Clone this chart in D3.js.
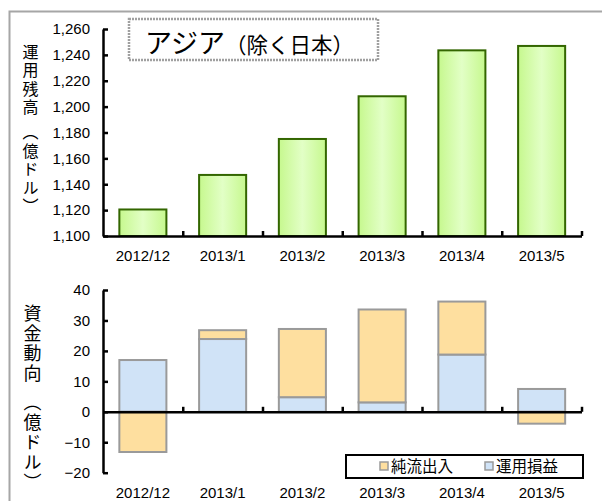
<!DOCTYPE html>
<html>
<head>
<meta charset="utf-8">
<script src="https://cdn.jsdelivr.net/npm/d3@7"></script>
<style>
  body { margin: 0; background: #fff; }
  text { font-family: "Liberation Sans", Arial, sans-serif; }
  .jp { font-family: "Noto Sans CJK JP", sans-serif; }
</style>
</head>
<body>
<div id="chart"></div>
<script>
var width = 602, height = 501;

// data
var months = ["2012/12", "2013/1", "2013/2", "2013/3", "2013/4", "2013/5"];
var balance = [1120.5, 1147.2, 1175, 1208, 1243.5, 1246.9];      // 運用残高
var pnl = [17, 23.9, 4.8, 3.1, 18.8, 7.5];                        // 運用損益
var netFlow = [-13.2, 2.9, 22.4, 30.5, 17.4, -3.9];              // 純流出入
var topTicks = [1100, 1120, 1140, 1160, 1180, 1200, 1220, 1240, 1260];
var bottomTicks = [-20, -10, 0, 10, 20, 30, 40];

var left = 103, right = 581.5;

var svg = d3.select("#chart").append("svg")
    .attr("width", width)
    .attr("height", height);

svg.append("rect").attr("width", width).attr("height", height).attr("fill", "#fff");

// outer frame
svg.append("rect")
    .attr("x", 9.5).attr("y", 11.5)
    .attr("width", 640).attr("height", 540)
    .attr("fill", "none")
    .attr("stroke", "#a6a6a6")
    .attr("stroke-width", 2);

var defs = svg.append("defs");
var grad = defs.append("linearGradient").attr("id", "greenGrad")
    .attr("x1", "0%").attr("x2", "100%").attr("y1", "0%").attr("y2", "0%");
grad.append("stop").attr("offset", "0%").attr("stop-color", "#c6f88e");
grad.append("stop").attr("offset", "50%").attr("stop-color", "#e2ffc6");
grad.append("stop").attr("offset", "100%").attr("stop-color", "#c6f88e");

var xBand = d3.scaleBand().domain(months).range([left, right])
    .paddingInner(0.41).paddingOuter(0.205);
var xEdge = d3.scaleLinear().domain([0, months.length]).range([left, right]);

//---------------- top chart ----------------
var yTop = d3.scaleLinear().domain([1100, 1260]).range([236, 29]);

svg.append("g").selectAll("rect")
    .data(months)
    .enter().append("rect")
    .attr("x", d => xBand(d))
    .attr("width", xBand.bandwidth())
    .attr("y", (d, i) => yTop(balance[i]))
    .attr("height", (d, i) => yTop(1100) - yTop(balance[i]))
    .attr("fill", "url(#greenGrad)")
    .attr("stroke", "#336600")
    .attr("stroke-width", 2);

function styleAxis(g) {
    g.selectAll("path, line").attr("stroke", "#000").attr("stroke-width", 2.5);
    g.selectAll("text").attr("fill", "#000").style("font-size", "15px")
        .style("font-family", "'Liberation Sans', Arial, sans-serif");
}

var yAxisTop = svg.append("g")
    .attr("transform", `translate(${left},0)`)
    .call(d3.axisLeft(yTop).tickValues(topTicks).tickSize(-5).tickSizeOuter(0)
        .tickPadding(13).tickFormat(d3.format(",")));
styleAxis(yAxisTop);

var xTicksTop = svg.append("g")
    .attr("transform", "translate(0,236)")
    .call(d3.axisTop(xEdge).tickValues([1, 2, 3, 4, 5, 6]).tickSize(5).tickSizeOuter(0).tickFormat(""));
styleAxis(xTicksTop);

var xLabelsTop = svg.append("g")
    .attr("transform", "translate(0,236)")
    .call(d3.axisBottom(xBand).tickSize(0).tickPadding(14));
xLabelsTop.select(".domain").remove();
styleAxis(xLabelsTop);

//---------------- bottom chart ----------------
var yBot = d3.scaleLinear().domain([-20, 40]).range([472.7, 290]);

var flowRows = months.map((m, i) => ({ month: m, pnl: pnl[i], net: netFlow[i] }));
var stack = d3.stack().keys(["pnl", "net"]).offset(d3.stackOffsetDiverging);
var series = stack(flowRows);
var colors = { pnl: "#d0e3f7", net: "#fedf9f" };

svg.append("g").selectAll("g")
    .data(series)
    .enter().append("g")
    .attr("fill", d => colors[d.key])
    .selectAll("rect")
    .data(d => d)
    .enter().append("rect")
    .attr("x", d => xBand(d.data.month))
    .attr("width", xBand.bandwidth())
    .attr("y", d => yBot(Math.max(d[0], d[1])))
    .attr("height", d => Math.abs(yBot(d[0]) - yBot(d[1])))
    .attr("stroke", "#9a9a9a")
    .attr("stroke-width", 2);

var yAxisBot = svg.append("g")
    .attr("transform", `translate(${left},0)`)
    .call(d3.axisLeft(yBot).tickValues(bottomTicks).tickSize(-5).tickSizeOuter(0)
        .tickPadding(13));
styleAxis(yAxisBot);

var zeroAxis = svg.append("g")
    .attr("transform", `translate(0,${yBot(0)})`)
    .call(d3.axisTop(xEdge).tickValues([1, 2, 3, 4, 5, 6]).tickSize(5).tickSizeOuter(0).tickFormat(""));
styleAxis(zeroAxis);

var xLabelsBot = svg.append("g")
    .attr("transform", `translate(0,${yBot(-20)})`)
    .call(d3.axisBottom(xBand).tickSize(0).tickPadding(15));
xLabelsBot.select(".domain").remove();
styleAxis(xLabelsBot);

//---------------- vertical axis titles ----------------
// a space between title and unit gets its own (smaller) advance
function verticalLabel(str, x, y0, size, pitch, gap) {
    var pos = [], y = y0;
    Array.from(str).forEach(ch => {
        if (ch === " ") { y += gap; return; }
        pos.push({ ch: ch, y: y });
        y += pitch;
    });
    svg.append("g").selectAll("text")
        .data(pos)
        .enter().append("text")
        .attr("class", "jp")
        .attr("x", x)
        .attr("y", d => d.y)
        .style("writing-mode", "vertical-rl")
        .style("font-size", size + "px")
        .attr("fill", "#000")
        .text(d => d.ch);
}
verticalLabel("運用残高 （億ドル）", 30.5, 43.5, 16, 18.5, 6.5);
verticalLabel("資金動向 （億ドル）", 32.5, 304, 18, 20, 9);

// title box
svg.append("rect")
    .attr("x", 129).attr("y", 19)
    .attr("width", 249).attr("height", 41)
    .attr("fill", "#fff")
    .attr("stroke", "#a0a0a0")
    .attr("stroke-width", 2.5)
    .attr("stroke-dasharray", "2,1");

var title = svg.append("text")
    .attr("class", "jp")
    .attr("x", 145).attr("y", 53);
title.append("tspan").style("font-size", "27px").text("アジア");
title.append("tspan").style("font-size", "21.5px").text("（除く日本）");

// legend
var legend = svg.append("g");
legend.append("rect")
    .attr("x", 346).attr("y", 455)
    .attr("width", 237).attr("height", 23)
    .attr("fill", "#fff")
    .attr("stroke", "#000")
    .attr("stroke-width", 2);

var legendItems = [
    { key: "net", label: "純流出入", x: 380 },
    { key: "pnl", label: "運用損益", x: 485 }
];
var li = legend.selectAll(".item").data(legendItems).enter().append("g").attr("class", "item");
li.append("rect")
    .attr("x", d => d.x).attr("y", 462)
    .attr("width", 8).attr("height", 8)
    .attr("fill", d => colors[d.key])
    .attr("stroke", "#9a9a9a")
    .attr("stroke-width", 1.5);
li.append("text")
    .attr("class", "jp")
    .attr("x", d => d.x + 11).attr("y", 472)
    .style("font-size", "15.5px")
    .text(d => d.label);
</script>
</body>
</html>
